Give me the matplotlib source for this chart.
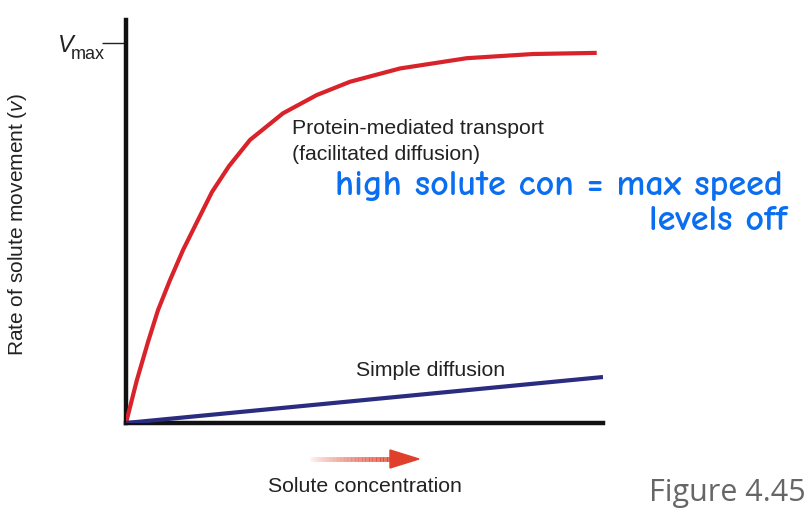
import matplotlib
matplotlib.use("Agg")
import matplotlib.pyplot as plt
import numpy as np
from matplotlib.collections import LineCollection
from matplotlib.patches import Polygon

# Data (y in units of Vmax, x in arbitrary concentration units)
facilitated_x = [0.0, 0.224, 0.461, 0.671, 0.922, 1.195, 1.488, 1.803, 2.159, 2.600,
                 3.291, 3.998, 4.696, 5.744, 7.143, 8.532, 9.868]
facilitated_y = [0.0, 0.111, 0.213, 0.297, 0.376, 0.455, 0.529, 0.608, 0.676, 0.745,
                 0.815, 0.863, 0.898, 0.933, 0.960, 0.971, 0.974]
simple_x = [0.0, 10.0]
simple_y = [0.0, 0.121]
vmax = 1.0

plt.rcParams["mathtext.fontset"] = "custom"
plt.rcParams["mathtext.rm"] = "Liberation Sans"
plt.rcParams["mathtext.it"] = "Liberation Sans:italic"

W, H = 810, 513
fig = plt.figure(figsize=(W / 100, H / 100), dpi=100)
ax = fig.add_axes([126 / W, 1 - 423 / H, (603 - 126) / W, (423 - 20) / H])

sans = ["Liberation Sans", "DejaVu Sans"]
txt = "#222222"

ax.plot(facilitated_x, facilitated_y, color="#d9232b", lw=3.0, solid_joinstyle="round",
        solid_capstyle="butt", zorder=3)
ax.plot(simple_x, simple_y, color="#2a2c80", lw=3.0, solid_capstyle="butt", zorder=3)

ax.set_xlim(0, 10)
ax.set_ylim(0, 403 / 380)
for s in ["top", "right"]:
    ax.spines[s].set_visible(False)
for s in ["left", "bottom"]:
    ax.spines[s].set_linewidth(3.2)
    ax.spines[s].set_color("#111111")
ax.set_xticks([])
ax.set_yticks([vmax])
ax.set_yticklabels([""])
ax.tick_params(axis="y", length=17, width=1.0, color="#222222", direction="out")

def px(x, y):
    return x / W, 1 - y / H

fig.text(*px(58, 45), "V", ha="left", va="center", fontsize=17, style="italic",
         family=sans, color=txt)
fig.text(*px(71, 55), "max", ha="left", va="center", fontsize=13,
         family=sans, color=txt)

fig.text(*px(18, 225), r"Rate of solute movement ($\mathit{v}$)", rotation=90,
         ha="center", va="center", fontsize=15, family=sans, color=txt)

fig.text(*px(292, 128), "Protein-mediated transport", ha="left", va="center",
         fontsize=15.3, family=sans, color=txt)
fig.text(*px(292, 155), "(facilitated diffusion)", ha="left", va="center",
         fontsize=15.3, family=sans, color=txt)
fig.text(*px(356, 370), "Simple diffusion", ha="left", va="center",
         fontsize=15.3, family=sans, color=txt)
fig.text(*px(365, 487), "Solute concentration", ha="center", va="center",
         fontsize=15.3, family=sans, color=txt)

# gradient arrow
xs = np.linspace(310, 392, 60)
segs = [[px(xs[i], 459), px(xs[i + 1], 459)] for i in range(len(xs) - 1)]
alphas = np.linspace(0.03, 1.0, len(segs)) ** 0.8
cols = [(0.88, 0.25, 0.17, a) for a in alphas]
lc = LineCollection(segs, colors=cols, linewidths=3.5, transform=fig.transFigure)
fig.add_artist(lc)
head = Polygon([px(390, 450), px(419, 459), px(390, 468)], closed=True,
               transform=fig.transFigure, color="#e0402b")
fig.add_artist(head)

hand = ["Comic Neue", "Lato", "DejaVu Sans"]
fig.text(*px(335, 186), "high solute con = max speed", ha="left", va="center",
         fontsize=26, fontweight="bold", family=hand, color="#0a6ef0")
fig.text(*px(787, 221), "levels off", ha="right", va="center",
         fontsize=26, fontweight="bold", family=hand, color="#0a6ef0")

fig.text(*px(806, 493), "Figure 4.45", ha="right", va="center", fontsize=22,
         family=["Open Sans", "DejaVu Sans"], color="#666666")

fig.savefig("out.png", dpi=100)
